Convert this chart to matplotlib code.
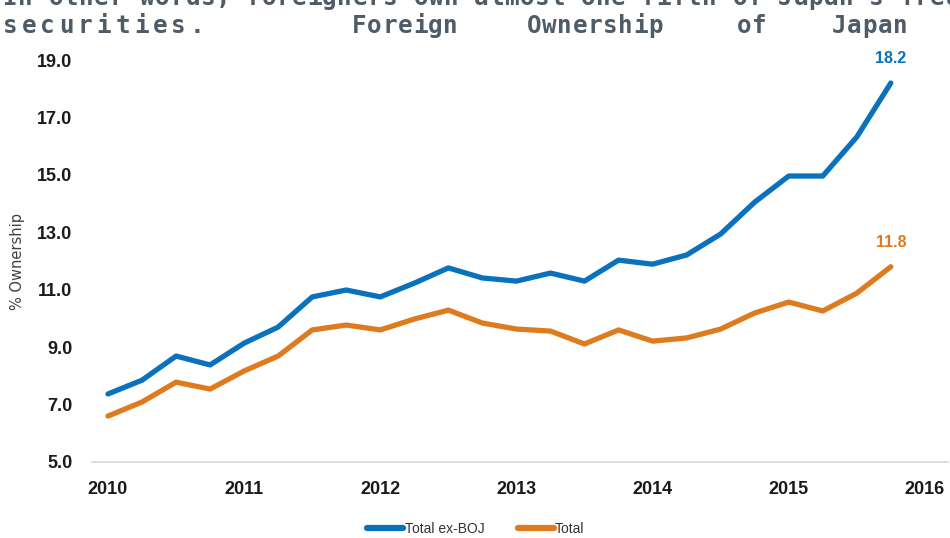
import numpy as np
import matplotlib.pyplot as plt

# Foreign ownership of Japanese government securities, quarterly 2010Q1-2015Q4
ex_boj = [7.37, 7.85, 8.69, 8.38, 9.14, 9.70, 10.75, 10.99, 10.75, 11.23, 11.76, 11.41,
          11.30, 11.58, 11.30, 12.03, 11.89, 12.21, 12.94, 14.05, 14.96, 14.96, 16.32, 18.2]
total = [6.60, 7.09, 7.78, 7.54, 8.17, 8.69, 9.60, 9.77, 9.60, 9.98, 10.29, 9.84,
         9.63, 9.56, 9.11, 9.60, 9.21, 9.32, 9.63, 10.19, 10.57, 10.26, 10.88, 11.8]
years = [2010, 2011, 2012, 2013, 2014, 2015, 2016]
yticks = [5, 7, 9, 11, 13, 15, 17, 19]

blue = '#0a72bd'
orange = '#df7b1f'
W, H = 950, 538

fig = plt.figure(figsize=(9.5, 5.38), dpi=100)
ax = fig.add_axes([92 / W, 1 - 462 / H, (948 - 92) / W, (462 - 42.8) / H])

x = 2010 + 0.25 * np.arange(len(ex_boj))
ax.plot(x, ex_boj, color=blue, lw=3.8, solid_capstyle='round', solid_joinstyle='round',
        label='Total ex-BOJ', clip_on=False)
ax.plot(x, total, color=orange, lw=3.8, solid_capstyle='round', solid_joinstyle='round',
        label='Total', clip_on=False)

# end-point value labels
for vals, col in [(ex_boj, blue), (total, orange)]:
    ax.annotate(f'{vals[-1]:.1f}', (x[-1], vals[-1]), xytext=(0, 17.6), textcoords='offset points',
                ha='center', va='center', color=col, fontsize=11.5, fontweight='semibold',
                family='Liberation Sans')

ax.set_xlim(2009.8825, 2016.17)
ax.set_ylim(5, 19.6)
ax.set_xticks(years)
ax.set_xticklabels([str(y) for y in years])
ax.set_yticks(yticks)
ax.set_yticklabels([f'{v:.1f}' for v in yticks])
ax.tick_params(length=0, labelsize=13, colors='#1a1a1a')
ax.tick_params(axis='y', pad=14)
ax.tick_params(axis='x', pad=14)
for lab in ax.get_xticklabels() + ax.get_yticklabels():
    lab.set_fontweight('bold')
    lab.set_family('Liberation Sans')

for s in ['top', 'right', 'left']:
    ax.spines[s].set_visible(False)
ax.spines['bottom'].set_color('#d9d9d9')
ax.spines['bottom'].set_linewidth(1.2)

fig.text(18 / W, 1 - 262 / H, '% Ownership', rotation=90, ha='center', va='center',
         fontsize=10.5, color='#404040', family='DejaVu Sans')

leg = fig.legend(loc='center', bbox_to_anchor=(476 / W, 1 - 529 / H), ncol=2, frameon=False,
                 prop={'family': 'Liberation Sans', 'size': 10}, handlelength=2.6,
                 handletextpad=0.1, columnspacing=2.4)
for t in leg.get_texts():
    t.set_color('#333333')
for h in leg.legend_handles:
    h.set_linewidth(4.5)


# clipped article text above the chart, monospace with letter spacing
def spaced(text, x0, y, pitch, **kw):
    for i, ch in enumerate(text):
        fig.text((x0 + i * pitch) / W, 1 - y / H, ch, ha='left', va='baseline', **kw)


mono = dict(family='DejaVu Sans Mono', fontweight='bold', fontsize=17.5, color='#4f5b66')
spaced("In other words, foreigners own almost one-fifth of Japan's Treasury", 3, 5, 15.2, **mono)
spaced('securities.', 3, 33, 18.7, **mono)
spaced('Foreign', 352, 33, 15.2, **mono)
spaced('Ownership', 527, 33, 15.2, **mono)
spaced('of', 737, 33, 15.2, **mono)
spaced('Japan', 832, 33, 15.2, **mono)

fig.savefig('out.png', dpi=100)
